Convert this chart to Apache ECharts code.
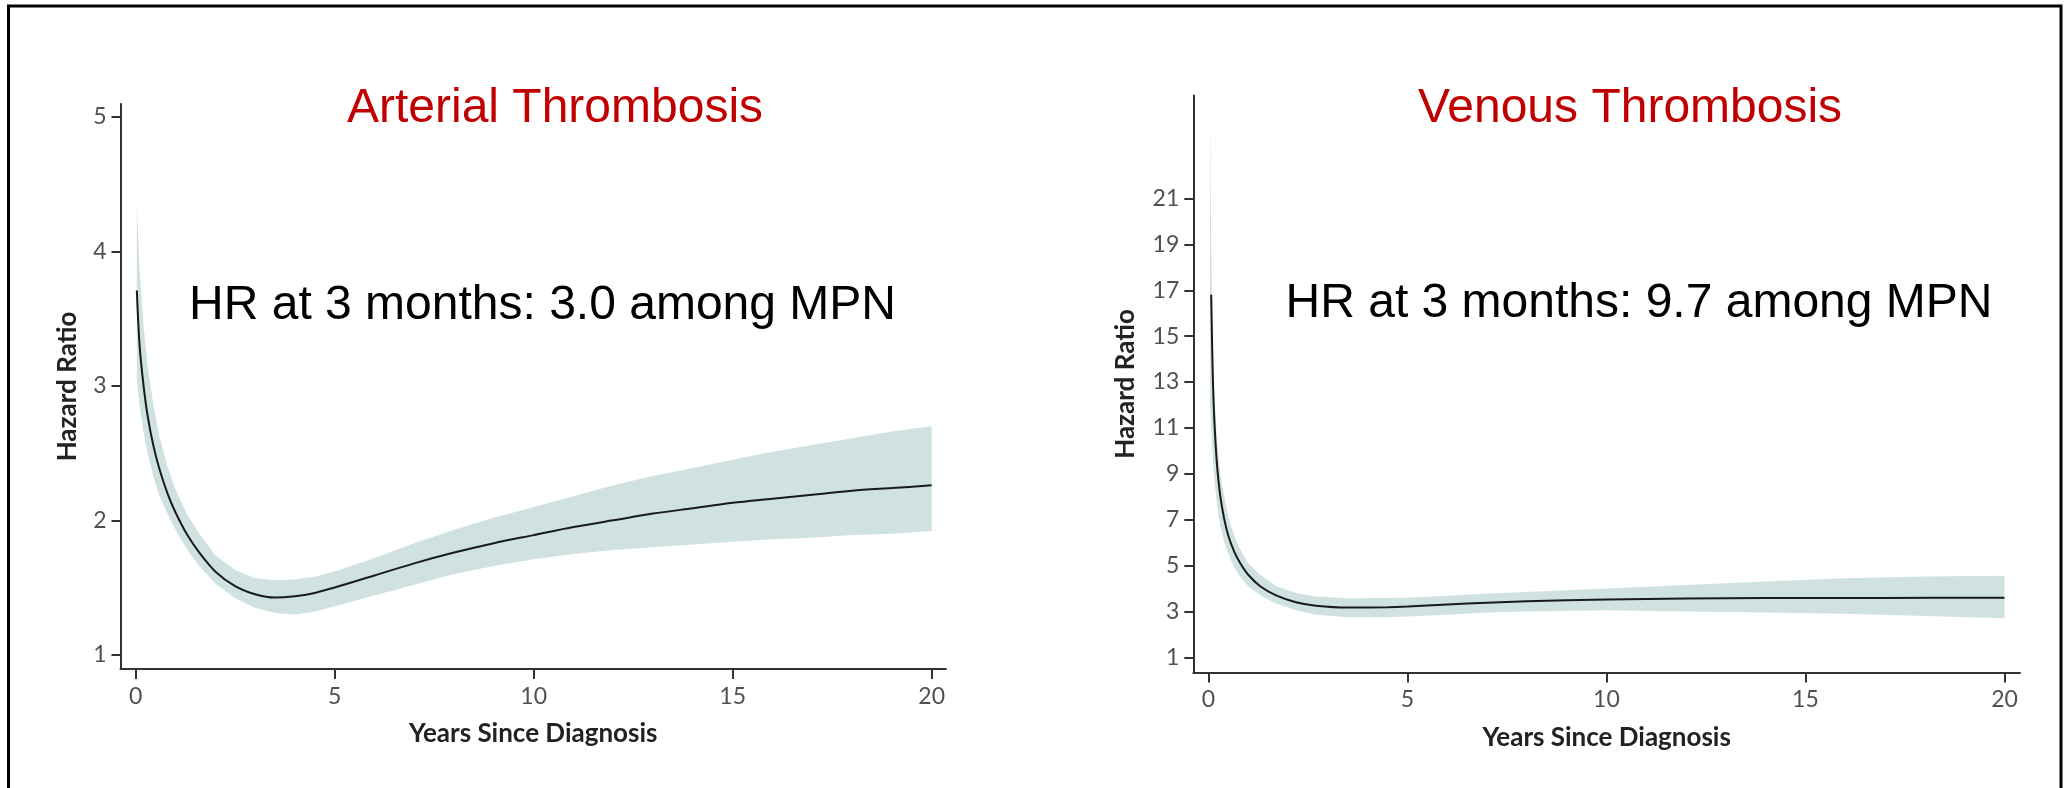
<!DOCTYPE html>
<html><head><meta charset="utf-8">
<script src="https://cdn.jsdelivr.net/npm/echarts@6/dist/echarts.min.js"></script>
<style>html,body{margin:0;padding:0;background:#fff}#c{width:2064px;height:788px}</style>
</head><body><div id="c"></div>
<script>
// ---- Arterial thrombosis: hazard ratio curve ----
const arterialLineT = [0.03,0.1,0.2,0.3,0.45,0.6,0.8,1.0,1.3,1.6,2.0,2.5,3.0,3.5,4.0,4.5,5.0,6.0,7.0,8.0,9.0,10.0,11.0,12.0,13.0,14.0,15.0,16.0,17.0,18.0,19.0,20.0];
const arterialLineHR = [3.71,3.30,3.00,2.78,2.55,2.38,2.20,2.06,1.89,1.76,1.62,1.51,1.45,1.425,1.435,1.46,1.50,1.59,1.68,1.76,1.83,1.89,1.95,2.00,2.05,2.09,2.13,2.16,2.19,2.22,2.24,2.26];
// ---- Arterial thrombosis: confidence band ----
const arterialBandT = [0.03,0.1,0.2,0.3,0.45,0.6,0.8,1.0,1.3,1.6,2.0,2.5,3.0,3.5,4.0,4.5,5.0,6.0,7.0,8.0,9.0,10.0,11.0,12.0,13.0,14.0,15.0,16.0,17.0,18.0,19.0,20.0];
const arterialBandLo = [3.05,2.85,2.65,2.50,2.32,2.18,2.05,1.93,1.78,1.66,1.53,1.42,1.35,1.31,1.30,1.32,1.36,1.44,1.52,1.60,1.66,1.71,1.75,1.78,1.80,1.82,1.84,1.86,1.87,1.89,1.90,1.92];
const arterialBandHi = [4.38,3.85,3.45,3.15,2.85,2.62,2.40,2.23,2.04,1.90,1.74,1.63,1.57,1.555,1.56,1.58,1.62,1.72,1.83,1.93,2.02,2.10,2.18,2.26,2.33,2.39,2.45,2.51,2.56,2.61,2.66,2.70];

// ---- Venous thrombosis: hazard ratio curve ----
const venousLineT = [0.07,0.1,0.13,0.17,0.22,0.3,0.4,0.5,0.65,0.8,1.0,1.3,1.7,2.2,2.7,3.5,4.5,5.0,6.0,7.0,8.0,10.0,12.0,14.0,17.0,20.0];
const venousLineHR = [16.8,14.0,12.1,10.6,9.3,8.0,7.0,6.3,5.6,5.1,4.6,4.1,3.7,3.4,3.25,3.17,3.18,3.21,3.30,3.38,3.44,3.52,3.56,3.58,3.59,3.60];
// ---- Venous thrombosis: confidence band ----
const venousBandT = [0.04,0.07,0.1,0.13,0.17,0.22,0.3,0.4,0.5,0.65,0.8,1.0,1.3,1.7,2.2,2.7,3.5,4.5,5.0,6.0,7.0,8.0,10.0,12.0,14.0,16.0,18.0,20.0];
const venousBandLo = [12.0,11.0,10.0,9.2,8.4,7.6,6.7,6.0,5.5,4.9,4.5,4.1,3.7,3.35,3.05,2.85,2.75,2.75,2.78,2.85,2.95,3.0,3.05,3.0,2.95,2.9,2.8,2.7];
const venousBandHi = [24.6,19.0,15.5,13.3,11.8,10.4,9.0,8.0,7.1,6.3,5.7,5.1,4.6,4.1,3.8,3.65,3.57,3.58,3.6,3.68,3.78,3.85,4.0,4.15,4.3,4.45,4.52,4.55];

// ---- Tick labels ----
const xTicks = [0,5,10,15,20];
const arterialYTicks = [1,2,3,4,5];
const venousYTicks = [1,3,5,7,9,11,13,15,17,19,21];

// ---- Texts ----
const titles = ['Arterial Thrombosis','Venous Thrombosis'];
const notes = ['HR at 3 months: 3.0 among MPN','HR at 3 months: 9.7 among MPN'];
const xName = 'Years Since Diagnosis';
const yName = 'Hazard Ratio';

const AXIS = '#333';
const LABEL = '#505050';
const BAND = '#d0e1e1';
const NAMEFONT = {fontFamily:'Lato', fontWeight:'bold', fontSize:26, color:'#222'};

function pairs(t, v){ return t.map((x,i)=>[x, v[i]]); }
function bandData(t, lo, hi){ return t.map((x,i)=>[x, lo[i], hi[i]]); }

function bandSeries(idx, t, lo, hi){
  return {
    type:'custom', xAxisIndex:idx, yAxisIndex:idx, z:1, silent:true,
    data: bandData(t, lo, hi),
    encode:{x:0, y:[1,2]},
    renderItem: function(params, api){
      if (params.dataIndex !== 0) return null;
      const pts = [];
      for (let i=0;i<t.length;i++) pts.push(api.coord([t[i], hi[i]]));
      for (let i=t.length-1;i>=0;i--) pts.push(api.coord([t[i], lo[i]]));
      return {type:'polygon', shape:{points:pts}, style:{fill:BAND, stroke:null}};
    }
  };
}

function xAxis(idx){
  return {
    type:'value', gridIndex:idx, min:-0.38, max: idx===0 ? 20.36 : 20.39,
    name:xName, nameLocation:'middle', nameGap:52,
    nameTextStyle:NAMEFONT,
    axisLine:{onZero:false, lineStyle:{color:AXIS, width:2}},
    axisTick:{show:true, length:10, customValues:xTicks, lineStyle:{color:AXIS, width:2}},
    axisLabel:{customValues:xTicks, color:LABEL, fontFamily:'Lato', fontWeight:400, fontSize:23, margin:16},
    splitLine:{show:false}
  };
}
function yAxis(idx, ticks, min, max, gap){
  return {
    type:'value', gridIndex:idx, min:min, max:max,
    name:yName, nameLocation:'middle', nameGap:gap, nameRotate:90,
    nameTextStyle:NAMEFONT,
    axisLine:{onZero:false, lineStyle:{color:AXIS, width:2}},
    axisTick:{show:true, length:9, customValues:ticks, lineStyle:{color:AXIS, width:2}},
    axisLabel:{customValues:ticks, color:LABEL, fontFamily:'Lato', fontWeight:400, fontSize:23, margin:14},
    splitLine:{show:false}
  };
}

const chart = echarts.init(document.getElementById('c'), null, {renderer:'canvas'});
chart.setOption({
  animation:false,
  backgroundColor:'#fff',
  grid:[
    {left:120.5, top:104, width:825.5, height:565},
    {left:1193.3, top:95.5, width:826.7, height:576.9}
  ],
  xAxis:[xAxis(0), xAxis(1)],
  yAxis:[yAxis(0, arterialYTicks, 0.894, 5.097, 40), yAxis(1, venousYTicks, 0.342, 25.49, 55)],
  series:[
    bandSeries(0, arterialBandT, arterialBandLo, arterialBandHi),
    {type:'line', xAxisIndex:0, yAxisIndex:0, z:3, data:pairs(arterialLineT, arterialLineHR), showSymbol:false, smooth:0.3, lineStyle:{color:'#1a1a1a', width:2}},
    bandSeries(1, venousBandT, venousBandLo, venousBandHi),
    {type:'line', xAxisIndex:1, yAxisIndex:1, z:3, data:pairs(venousLineT, venousLineHR), showSymbol:false, smooth:0.3, lineStyle:{color:'#1a1a1a', width:2}}
  ],
  graphic:[
    {type:'rect', z:0, shape:{x:8.5, y:6, width:2052.5, height:800}, style:{fill:null, stroke:'#000', lineWidth:3}},
    {type:'text', x:555, y:109, style:{text:titles[0], fill:'#c00000', font:'48px "Liberation Sans", Arial, sans-serif', textAlign:'center', textVerticalAlign:'middle'}},
    {type:'text', x:1630, y:109, style:{text:titles[1], fill:'#c00000', font:'48px "Liberation Sans", Arial, sans-serif', textAlign:'center', textVerticalAlign:'middle'}},
    {type:'text', x:542.5, y:306, style:{text:notes[0], fill:'#000', font:'48px "Liberation Sans", Arial, sans-serif', textAlign:'center', textVerticalAlign:'middle'}},
    {type:'text', x:1639, y:304, style:{text:notes[1], fill:'#000', font:'48px "Liberation Sans", Arial, sans-serif', textAlign:'center', textVerticalAlign:'middle'}}
  ]
});
</script>
</body></html>
